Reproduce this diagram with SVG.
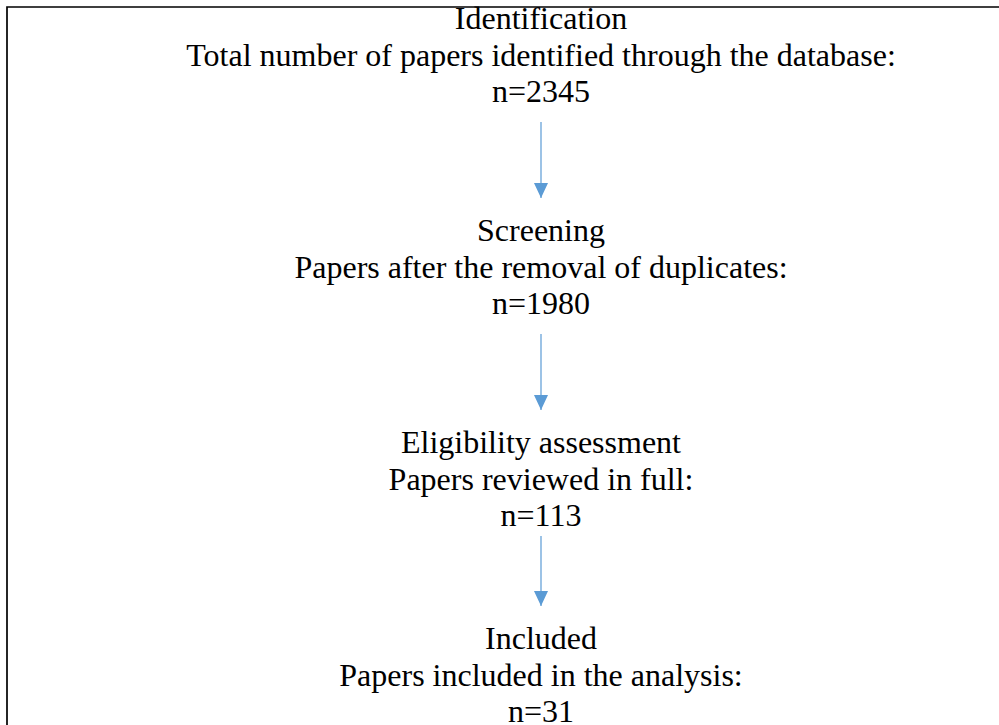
<svg xmlns="http://www.w3.org/2000/svg" width="999" height="725" viewBox="0 0 999 725">
<defs>
<style>
.t{font-family:"Liberation Serif","Times New Roman",serif;font-size:32px;fill:#000;text-anchor:middle}
.c{stroke:#5B9BD5;stroke-width:1.2;fill:none}
.frame{stroke:#000;stroke-width:1.7;fill:none}
</style>
<marker id="ah" markerWidth="15" markerHeight="14" refX="15" refY="7" orient="auto" markerUnits="userSpaceOnUse">
<path d="M0,0 L15,7 L0,14 Z" fill="#5B9BD5"/>
</marker>
</defs>
<rect width="999" height="725" fill="#fff"/>
<path class="frame" d="M7,725 V7 H999"/>
<g id="identification">
<text class="t" x="541" y="29">Identification</text>
<text class="t" x="541" y="65.5">Total number of papers identified through the database:</text>
<text class="t" x="541" y="102">n=2345</text>
</g>
<g id="screening">
<text class="t" x="541" y="241">Screening</text>
<text class="t" x="541" y="277.5">Papers after the removal of duplicates:</text>
<text class="t" x="541" y="314">n=1980</text>
</g>
<g id="eligibility">
<text class="t" x="541" y="453">Eligibility assessment</text>
<text class="t" x="541" y="489.5">Papers reviewed in full:</text>
<text class="t" x="541" y="526">n=113</text>
</g>
<g id="included">
<text class="t" x="541" y="649">Included</text>
<text class="t" x="541" y="685.5">Papers included in the analysis:</text>
<text class="t" x="541" y="722">n=31</text>
</g>
<g id="connectors">
<line class="c" x1="541" y1="122" x2="541" y2="198" marker-end="url(#ah)"/>
<line class="c" x1="541" y1="334" x2="541" y2="410" marker-end="url(#ah)"/>
<line class="c" x1="541" y1="536" x2="541" y2="606" marker-end="url(#ah)"/>
</g>
</svg>
